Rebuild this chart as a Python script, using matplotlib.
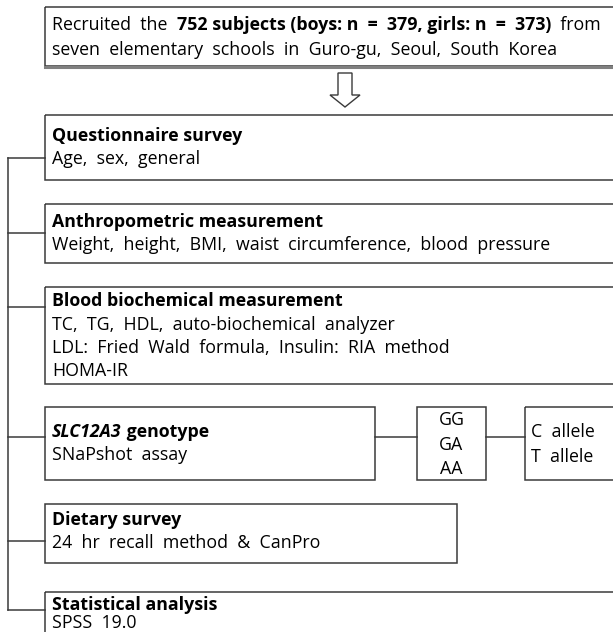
import matplotlib.pyplot as plt
from matplotlib.patches import Rectangle, Polygon

plt.rcParams['font.family'] = ['Open Sans', 'DejaVu Sans']

# left column steps: title, body lines
titles = ['Questionnaire survey', 'Anthropometric measurement',
          'Blood biochemical measurement', 'SLC12A3 genotype',
          'Dietary survey', 'Statistical analysis']
bodies = [['Age,  sex,  general'],
          ['Weight,  height,  BMI,  waist  circumference,  blood  pressure'],
          ['TC,  TG,  HDL,  auto-biochemical  analyzer',
           'LDL:  Fried  Wald  formula,  Insulin:  RIA  method',
           'HOMA-IR'],
          ['SNaPshot  assay'],
          ['24  hr  recall  method  &  CanPro'],
          ['SPSS  19.0']]
genotypes = ['GG', 'GA', 'AA']
alleles = ['C  allele', 'T  allele']

# box geometry (pixels): top, bottom, right, title y, line gap, connector y
tops = [115, 204, 287, 407, 504, 592]
bottoms = [180, 263, 384, 480, 563, 650]
rights = [620, 620, 620, 375, 457, 620]
title_y = [136, 222, 301, 432, 520, 605]
gaps = [23.5, 23.5, 23.5, 23.5, 23.5, 18]
conn_y = [158, 233, 307, 437, 541, 610]

W, H = 613, 632
fig = plt.figure(figsize=(W / 100, H / 100), dpi=100)
ax = fig.add_axes([0, 0, 1, 1])
ax.set_xlim(0, W)
ax.set_ylim(H, 0)
ax.axis('off')

edge = '#3a3a3a'
fs = 12.8
left = 45
tx = 52
fig.canvas.draw()
r = fig.canvas.get_renderer()


def width_px(t):
    return t.get_window_extent(renderer=r).width


def box(x0, y0, x1, y1):
    ax.add_patch(Rectangle((x0, y0), x1 - x0, y1 - y0, fill=False,
                           edgecolor=edge, linewidth=1.1))


# top box
box(left, 7, 620, 66)
ax.plot([left, 620], [66.5, 66.5], color='#808080', lw=2.2)
t1 = ax.text(tx, 25, 'Recruited  the  ', fontsize=fs, va='center')
x = tx + width_px(t1)
t2 = ax.text(x, 25, '752 subjects (boys: n  =  379, girls: n  =  373)',
             fontsize=fs, va='center', fontweight='bold')
x += width_px(t2)
ax.text(x, 25, '  from', fontsize=fs, va='center')
ax.text(tx, 50, 'seven  elementary  schools  in  Guro-gu,  Seoul,  South  Korea',
        fontsize=fs, va='center')

# hollow down arrow
ax.add_patch(Polygon([(338, 73), (352, 73), (352, 95), (360, 95), (345, 107),
                      (330, 95), (338, 95)], closed=True, fill=False,
                     edgecolor=edge, linewidth=1.0))

# left column boxes
for i in range(len(titles)):
    box(left, tops[i], rights[i], bottoms[i])
    ty = title_y[i]
    if i == 3:
        ts = ax.text(tx, ty, 'SLC12A3', fontsize=fs, va='center',
                     fontweight='bold', style='italic')
        ax.text(tx + width_px(ts), ty, ' genotype', fontsize=fs, va='center',
                fontweight='bold')
    else:
        ax.text(tx, ty, titles[i], fontsize=fs, va='center', fontweight='bold')
    for j, line in enumerate(bodies[i]):
        ax.text(tx, ty + gaps[i] * (j + 1), line, fontsize=fs, va='center')
    ax.plot([8, left], [conn_y[i], conn_y[i]], color=edge, lw=1.1)

ax.plot([8, 8], [conn_y[0], conn_y[-1]], color=edge, lw=1.1)

# genotype and allele boxes
box(417, 407, 486, 480)
for k, g in enumerate(genotypes):
    ax.text(451.5, 420 + 24.5 * k, g, fontsize=fs, va='center', ha='center')
ax.plot([375, 417], [437, 437], color=edge, lw=1.1)
ax.plot([486, 525], [437, 437], color=edge, lw=1.1)
box(525, 407, 620, 480)
for k, a in enumerate(alleles):
    ax.text(531, 432 + 25 * k, a, fontsize=fs, va='center')

fig.savefig('out.png', dpi=100)
